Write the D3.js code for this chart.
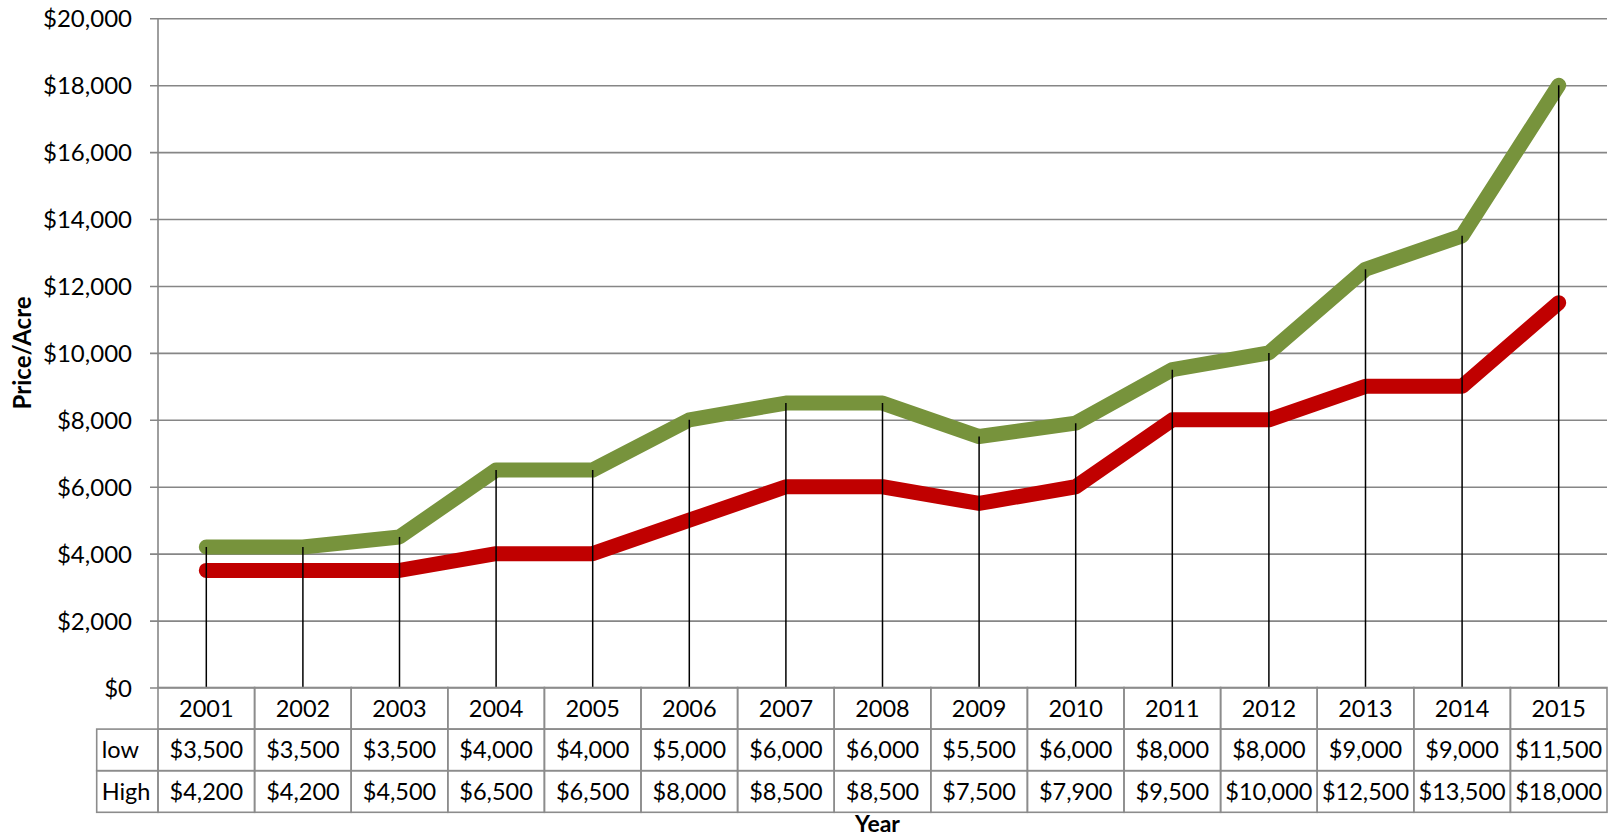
<!DOCTYPE html>
<html>
<head>
<meta charset="utf-8">
<script src="https://cdn.jsdelivr.net/npm/d3@7"></script>
<style>
  body { margin: 0; background: #fff; }
  svg { display: block; font-family: Lato, "Open Sans", sans-serif; }
</style>
</head>
<body>
<div id="chart"></div>
<script>
// Land price per acre, low / high, 2001-2015
const years = ['2001','2002','2003','2004','2005','2006','2007','2008','2009','2010','2011','2012','2013','2014','2015'];
const lowValues = [3500, 3500, 3500, 4000, 4000, 5000, 6000, 6000, 5500, 6000, 8000, 8000, 9000, 9000, 11500];
const highValues = [4200, 4200, 4500, 6500, 6500, 8000, 8500, 8500, 7500, 7900, 9500, 10000, 12500, 13500, 18000];
const yTicks = [0, 2000, 4000, 6000, 8000, 10000, 12000, 14000, 16000, 18000, 20000];
const rowLabels = ['low', 'High'];

const W = 1620, H = 836;
const margin = { top: 18.3, left: 158, right: 13, bottom: 148.5 };
const width = W - margin.left - margin.right;
const height = H - margin.top - margin.bottom;
const rowH = 41.6;
const labelColLeft = 96.7;

const svg = d3.select('#chart')
    .append('svg')
    .attr('width', W)
    .attr('height', H);

const g = svg.append('g')
    .attr('transform', `translate(${margin.left},${margin.top})`);

const x = d3.scaleBand()
    .domain(years)
    .range([0, width]);

const y = d3.scaleLinear()
    .domain([0, 20000])
    .range([height, 0]);

const money = d3.format('$,');

// gridlines with small ticks to the left of the axis
const grid = g.append('g')
    .attr('transform', 'translate(-8,0)')
    .call(d3.axisRight(y).tickValues(yTicks).tickSize(width + 8).tickFormat(''));
grid.select('.domain').remove();
grid.selectAll('line').attr('stroke', '#868686').attr('stroke-width', 1.6);

// y tick labels
const yAxis = g.append('g')
    .call(d3.axisLeft(y).tickValues(yTicks).tickSize(0).tickPadding(26).tickFormat(money));
yAxis.select('.domain').remove();
yAxis.selectAll('text')
    .style('font-size', '24px')
    .style('font-family', 'Lato, sans-serif')
    .attr('fill', '#000')
    .attr('dy', '0.36em');

// vertical axis line
g.append('line')
    .attr('x1', 0).attr('x2', 0)
    .attr('y1', 0).attr('y2', height)
    .attr('stroke', '#868686')
    .attr('stroke-width', 1.6);

const line = d3.line()
    .x((d, i) => x(years[i]) + x.bandwidth() / 2)
    .y(d => y(d));

[[lowValues, '#C00000'], [highValues, '#77933C']].forEach(([vals, col]) => {
    g.append('path')
        .datum(vals)
        .attr('d', line)
        .attr('fill', 'none')
        .attr('stroke', col)
        .attr('stroke-width', 15)
        .attr('stroke-linecap', 'round')
        .attr('stroke-linejoin', 'round');
});

// drop lines from the high series to the axis, drawn over the lines
g.selectAll('.drop')
    .data(years)
    .enter()
    .append('line')
    .attr('class', 'drop')
    .attr('x1', d => x(d) + x.bandwidth() / 2)
    .attr('x2', d => x(d) + x.bandwidth() / 2)
    .attr('y1', (d, i) => y(highValues[i]))
    .attr('y2', height)
    .attr('stroke', '#000')
    .attr('stroke-width', 1.5);

// data table
const table = g.append('g').attr('transform', `translate(0,${height})`);
const border = '#8C8C8C';
const tableRows = [years, lowValues.map(money), highValues.map(money)];

tableRows.forEach((row, r) => {
    row.forEach((val, i) => {
        table.append('rect')
            .attr('x', x(years[i]))
            .attr('y', r * rowH)
            .attr('width', x.bandwidth())
            .attr('height', rowH)
            .attr('fill', 'none')
            .attr('stroke', border)
            .attr('stroke-width', 1.6);
        table.append('text')
            .attr('x', x(years[i]) + x.bandwidth() / 2)
            .attr('y', r * rowH + rowH / 2)
            .attr('dy', '0.36em')
            .attr('text-anchor', 'middle')
            .style('font-size', '23.5px')
            .text(val);
    });
});

rowLabels.forEach((lab, r) => {
    table.append('rect')
        .attr('x', labelColLeft - margin.left)
        .attr('y', (r + 1) * rowH)
        .attr('width', margin.left - labelColLeft)
        .attr('height', rowH)
        .attr('fill', 'none')
        .attr('stroke', border)
        .attr('stroke-width', 1.6);
    table.append('text')
        .attr('x', labelColLeft - margin.left + 5)
        .attr('y', (r + 1) * rowH + rowH / 2)
        .attr('dy', '0.36em')
        .style('font-size', '23.5px')
        .text(lab);
});

// axis titles
svg.append('text')
    .attr('transform', `translate(31,${margin.top + height / 2}) rotate(-90)`)
    .attr('text-anchor', 'middle')
    .style('font-size', '24px')
    .style('font-weight', 'bold')
    .text('Price/Acre');

svg.append('text')
    .attr('x', margin.left + width / 2 - 5)
    .attr('y', 832)
    .attr('text-anchor', 'middle')
    .style('font-size', '23px')
    .style('font-weight', 'bold')
    .text('Year');
</script>
</body>
</html>
